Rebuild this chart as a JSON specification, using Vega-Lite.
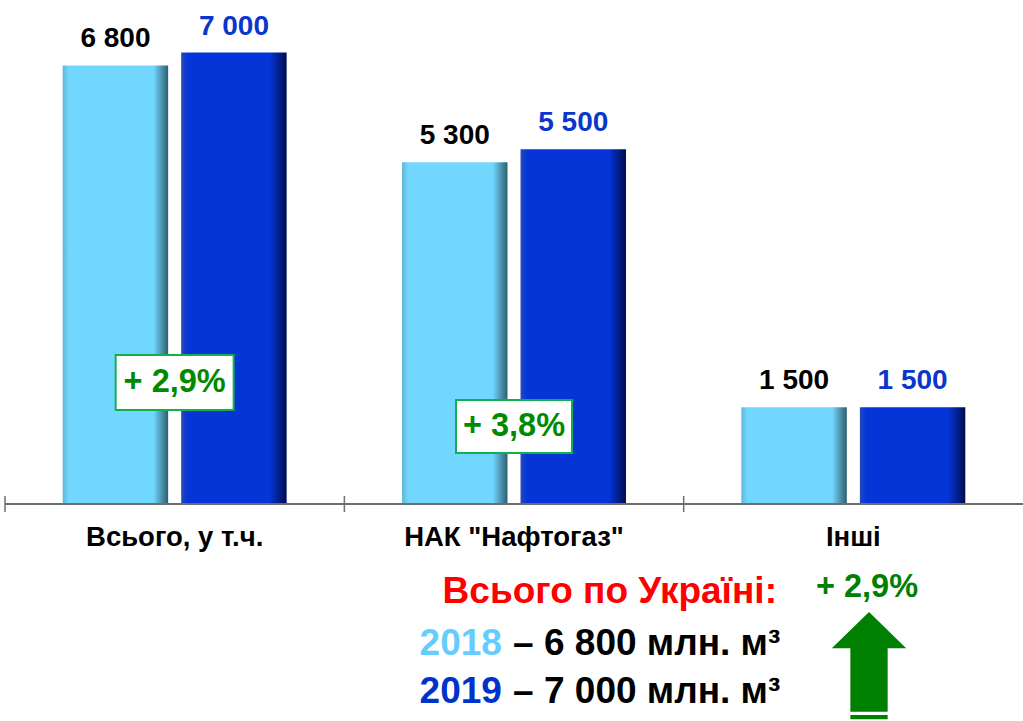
{
  "$schema": "https://vega.github.io/schema/vega-lite/v6.json",
  "width": 1018,
  "height": 504,
  "autosize": "none",
  "padding": {"left": 5, "top": 0, "right": 0, "bottom": 217},
  "background": "white",
  "config": {"view": {"stroke": null}, "font": "Liberation Sans", "axis": {"disable": true}},
  "datasets": {
    "bars": [
      {"cat": "Всього, у т.ч.", "year": "2018", "value": 6800, "label": "6 800"},
      {"cat": "Всього, у т.ч.", "year": "2019", "value": 7000, "label": "7 000"},
      {"cat": "НАК \"Нафтогаз\"", "year": "2018", "value": 5300, "label": "5 300"},
      {"cat": "НАК \"Нафтогаз\"", "year": "2019", "value": 5500, "label": "5 500"},
      {"cat": "Інші", "year": "2018", "value": 1500, "label": "1 500"},
      {"cat": "Інші", "year": "2019", "value": 1500, "label": "1 500"}
    ],
    "growth": [
      {"cat": "Всього, у т.ч.", "label": "+ 2,9%"},
      {"cat": "НАК \"Нафтогаз\"", "label": "+ 3,8%"}
    ],
    "notes": [
      {"key": "head", "text": "Всього по Україні:"},
      {"key": "y18", "text": "2018"},
      {"key": "v18", "text": "– 6 800 млн. м³"},
      {"key": "y19", "text": "2019"},
      {"key": "v19", "text": "– 7 000 млн. м³"},
      {"key": "total", "text": "+ 2,9%"}
    ]
  },
  "resolve": {"scale": {"color": "independent"}},
  "layer": [
    {
      "data": {"name": "bars"},
      "transform": [{"filter": "datum.year === '2018'"}],
      "mark": {"type": "bar", "fill": {"gradient": "linear", "x1": 0, "y1": 0, "x2": 1, "y2": 0, "stops": [{"offset": 0, "color": "#5fb6d6"}, {"offset": 0.06, "color": "#72d7fe"}, {"offset": 0.86, "color": "#72d7fe"}, {"offset": 1, "color": "#2d5e70"}]}},
      "encoding": {
        "x": {"field": "cat", "type": "nominal", "sort": null, "scale": {"domain": ["Всього, у т.ч.", "НАК \"Нафтогаз\"", "Інші"], "paddingInner": 0.34, "paddingOuter": 0.17}, "axis": null},
        "xOffset": {"field": "year", "type": "nominal", "scale": {"domain": ["2018", "2019"], "paddingInner": 0.11, "paddingOuter": 0}},
        "y": {"field": "value", "type": "quantitative", "scale": {"domain": [0, 7814], "nice": false, "zero": false}, "axis": null},
        "y2": {"datum": 0}
      }
    },
    {
      "data": {"name": "bars"},
      "transform": [{"filter": "datum.year === '2019'"}],
      "mark": {"type": "bar", "fill": {"gradient": "linear", "x1": 0, "y1": 0, "x2": 1, "y2": 0, "stops": [{"offset": 0, "color": "#2649bb"}, {"offset": 0.06, "color": "#0535d6"}, {"offset": 0.84, "color": "#0535d6"}, {"offset": 1, "color": "#000c50"}]}},
      "encoding": {
        "x": {"field": "cat", "type": "nominal", "sort": null},
        "xOffset": {"field": "year", "type": "nominal"},
        "y": {"field": "value", "type": "quantitative"},
        "y2": {"datum": 0}
      }
    },
    {
      "data": {"name": "bars"},
      "mark": {"type": "text", "fontSize": 28, "fontWeight": "bold", "baseline": "alphabetic", "dy": -18},
      "encoding": {
        "x": {"field": "cat", "type": "nominal", "sort": null},
        "xOffset": {"field": "year", "type": "nominal"},
        "y": {"field": "value", "type": "quantitative"},
        "text": {"field": "label"},
        "color": {"field": "year", "type": "nominal", "scale": {"domain": ["2018", "2019"], "range": ["#000000", "#0a36cc"]}, "legend": null}
      }
    },
    {
      "data": {"name": "bars"},
      "mark": {"type": "rule", "color": "#6e6e6e", "strokeWidth": 1.5},
      "encoding": {"y": {"datum": 0}}
    },
    {
      "data": {"name": "bars"},
      "transform": [{"filter": "datum.year === '2018'"}],
      "mark": {"type": "rule", "color": "#6e6e6e", "strokeWidth": 1.5},
      "encoding": {
        "x": {"field": "cat", "type": "nominal", "sort": null, "bandPosition": -0.2575},
        "y": {"datum": 124},
        "y2": {"datum": -124}
      }
    },
    {
      "data": {"name": "bars"},
      "transform": [{"filter": "datum.year === '2018'"}],
      "mark": {"type": "text", "fontSize": 27.5, "fontWeight": "bold", "baseline": "alphabetic", "color": "#000000"},
      "encoding": {
        "x": {"field": "cat", "type": "nominal", "sort": null},
        "y": {"datum": -651},
        "text": {"field": "cat"}
      }
    },
    {
      "data": {"name": "growth"},
      "transform": [{"filter": "datum.cat === 'Всього, у т.ч.'"}],
      "mark": {"type": "bar", "width": 118, "fill": "white", "stroke": "#10b050", "strokeWidth": 2},
      "encoding": {
        "x": {"field": "cat", "type": "nominal", "sort": null},
        "y": {"datum": 2310},
        "y2": {"datum": 1457}
      }
    },
    {
      "data": {"name": "growth"},
      "transform": [{"filter": "datum.cat === 'Всього, у т.ч.'"}],
      "mark": {"type": "text", "fontSize": 32.5, "fontWeight": "bold", "baseline": "middle", "color": "#008a00"},
      "encoding": {
        "x": {"field": "cat", "type": "nominal", "sort": null},
        "y": {"datum": 1884},
        "text": {"field": "label"}
      }
    },
    {
      "data": {"name": "growth"},
      "transform": [{"filter": "datum.cat !== 'Всього, у т.ч.'"}],
      "mark": {"type": "bar", "width": 116, "fill": "white", "stroke": "#10b050", "strokeWidth": 2},
      "encoding": {
        "x": {"field": "cat", "type": "nominal", "sort": null},
        "y": {"datum": 1612},
        "y2": {"datum": 791}
      }
    },
    {
      "data": {"name": "growth"},
      "transform": [{"filter": "datum.cat !== 'Всього, у т.ч.'"}],
      "mark": {"type": "text", "fontSize": 32.5, "fontWeight": "bold", "baseline": "middle", "color": "#008a00"},
      "encoding": {
        "x": {"field": "cat", "type": "nominal", "sort": null},
        "y": {"datum": 1202},
        "text": {"field": "label"}
      }
    },
    {
      "data": {"name": "notes"},
      "transform": [{"filter": "datum.key === 'head'"}],
      "mark": {"type": "text", "fontSize": 37, "fontWeight": "bold", "baseline": "alphabetic", "align": "right", "color": "#ff0000"},
      "encoding": {
        "x": {"datum": "Інші", "bandPosition": 0.159},
        "y": {"datum": -1535},
        "text": {"field": "text"}
      }
    },
    {
      "data": {"name": "notes"},
      "transform": [{"filter": "datum.key === 'y18'"}],
      "mark": {"type": "text", "fontSize": 37, "fontWeight": "bold", "baseline": "alphabetic", "align": "right", "color": "#66ccff"},
      "encoding": {
        "x": {"datum": "НАК \"Нафтогаз\"", "bandPosition": 0.446},
        "y": {"datum": -2341},
        "text": {"field": "text"}
      }
    },
    {
      "data": {"name": "notes"},
      "transform": [{"filter": "datum.key === 'v18'"}],
      "mark": {"type": "text", "fontSize": 37, "fontWeight": "bold", "baseline": "alphabetic", "align": "left", "color": "#000000"},
      "encoding": {
        "x": {"datum": "НАК \"Нафтогаз\"", "bandPosition": 0.496},
        "y": {"datum": -2341},
        "text": {"field": "text"}
      }
    },
    {
      "data": {"name": "notes"},
      "transform": [{"filter": "datum.key === 'y19'"}],
      "mark": {"type": "text", "fontSize": 37, "fontWeight": "bold", "baseline": "alphabetic", "align": "right", "color": "#0033cc"},
      "encoding": {
        "x": {"datum": "НАК \"Нафтогаз\"", "bandPosition": 0.446},
        "y": {"datum": -3085},
        "text": {"field": "text"}
      }
    },
    {
      "data": {"name": "notes"},
      "transform": [{"filter": "datum.key === 'v19'"}],
      "mark": {"type": "text", "fontSize": 37, "fontWeight": "bold", "baseline": "alphabetic", "align": "left", "color": "#000000"},
      "encoding": {
        "x": {"datum": "НАК \"Нафтогаз\"", "bandPosition": 0.496},
        "y": {"datum": -3085},
        "text": {"field": "text"}
      }
    },
    {
      "data": {"name": "notes"},
      "transform": [{"filter": "datum.key === 'total'"}],
      "mark": {"type": "text", "fontSize": 32.5, "fontWeight": "bold", "baseline": "alphabetic", "align": "center", "color": "#008000"},
      "encoding": {
        "x": {"datum": "Інші", "bandPosition": 0.561},
        "y": {"datum": -1442},
        "text": {"field": "text"}
      }
    },
    {
      "data": {"name": "notes"},
      "transform": [{"filter": "datum.key === 'total'"}],
      "mark": {"type": "point", "filled": true, "color": "#008000", "opacity": 1, "size": 10000, "strokeWidth": 0, "shape": "M0,-1L0.744,-0.274L0.373,-0.274L0.373,0.994L-0.373,0.994L-0.373,-0.274L-0.744,-0.274Z M-0.373,1.06L0.373,1.06L0.373,1.146L-0.373,1.146Z"},
      "encoding": {
        "x": {"datum": "Інші", "bandPosition": 0.57},
        "y": {"datum": -2450}
      }
    }
  ]
}
